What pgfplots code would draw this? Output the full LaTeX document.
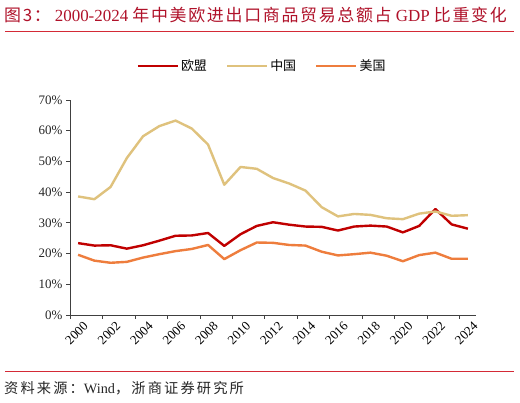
\documentclass[border=0pt]{standalone}
\usepackage{pgfplots}
\pgfplotsset{compat=1.18}
\usepackage{fontspec}
\setmainfont{Liberation Serif}
\newfontfamily\cjk{Noto Sans CJK SC}
\newfontfamily\cjkt[LetterSpace=10]{Noto Sans CJK SC}
\newfontfamily\cjks[LetterSpace=15]{Noto Sans CJK SC}
\definecolor{eu}{HTML}{C00000}
\definecolor{cn}{HTML}{DFC27D}
\definecolor{us}{HTML}{EE7D3D}
\definecolor{titlered}{HTML}{B0122A}
\definecolor{rule}{HTML}{D42A36}
\begin{document}
\begin{tikzpicture}
\path[use as bounding box, fill=white] (0,0) rectangle (520bp,403bp);
\node[anchor=west, text=titlered, inner sep=0pt, font=\fontsize{17}{19}\selectfont] at (4bp,388bp)
 {{\cjkt 图3：}\hspace{4bp}2000-2024 {\cjkt 年中美欧进出口商品贸易总额占} GDP {\cjkt 比重变化}};
\draw[rule, line width=0.9bp] (5bp,372bp) -- (514bp,372bp);
\draw[rule, line width=0.9bp] (5bp,32bp) -- (514bp,32bp);
\node[anchor=west, inner sep=0pt, font=\fontsize{14.3}{16}\selectfont, text=black!85] at (4bp,15bp)
 {{\cjks 资料来源：}Wind{\cjks ，浙商证券研究所}};
\begin{axis}[
  at={(70bp,88bp)}, anchor=south west,
  scale only axis, width=406bp, height=215bp,
  xmin=1999.5, xmax=2024.5, ymin=0, ymax=70,
  axis x line*=bottom, axis y line*=left,
  axis line style={black!75, line width=0.9bp},
  xtick={2000,2002,...,2024},
  minor xtick={1999.5,2001.5,...,2023.5},
  major x tick style={draw=none},
  minor tick length=4bp, major tick length=4bp,
  tick align=outside,
  tick style={black!75, line width=0.8bp},
  ytick={0,10,...,70},
  yticklabel={\pgfmathprintnumber{\tick}\%},
  /pgf/number format/assume math mode=true,
  xticklabel={\pgfmathprintnumber[1000 sep={}]{\tick}},
  x tick label style={rotate=45, anchor=east, font=\fontsize{13}{15}\selectfont, inner sep=0bp, xshift=2bp, yshift=-9bp},
  y tick label style={font=\fontsize{13}{15}\selectfont, text=black!85},
  legend columns=-1,
  legend style={at={(0.473,1.158)}, anchor=center, draw=none, fill=none,
    font=\cjk\fontsize{13}{15}\selectfont,
    /tikz/every even column/.append style={column sep=17bp}},
  legend image code/.code={\draw[#1] (0bp,0bp) -- (40bp,0bp);},
  every axis plot/.append style={line width=2.4bp, line join=round},
]
\addplot[eu] coordinates {
(2000,23.4) (2001,22.6) (2002,22.7) (2003,21.6) (2004,22.7) (2005,24.2) (2006,25.8) (2007,25.9) (2008,26.7) (2009,22.5) (2010,26.3) (2011,29.0) (2012,30.2) (2013,29.4) (2014,28.8) (2015,28.7) (2016,27.5) (2017,28.8) (2018,29.1) (2019,28.8) (2020,26.9) (2021,29.0) (2022,34.5) (2023,29.5) (2024,28.1)};
\addlegendentry{欧盟}
\addplot[cn] coordinates {
(2000,38.6) (2001,37.7) (2002,41.7) (2003,51.1) (2004,58.2) (2005,61.5) (2006,63.3) (2007,60.7) (2008,55.5) (2009,42.4) (2010,48.2) (2011,47.6) (2012,44.6) (2013,42.8) (2014,40.5) (2015,35.1) (2016,32.1) (2017,32.9) (2018,32.6) (2019,31.5) (2020,31.2) (2021,33.0) (2022,33.7) (2023,32.3) (2024,32.5)};
\addlegendentry{中国}
\addplot[us] coordinates {
(2000,19.6) (2001,17.7) (2002,17.0) (2003,17.3) (2004,18.7) (2005,19.8) (2006,20.8) (2007,21.5) (2008,22.8) (2009,18.2) (2010,21.1) (2011,23.6) (2012,23.5) (2013,22.8) (2014,22.6) (2015,20.6) (2016,19.4) (2017,19.8) (2018,20.3) (2019,19.3) (2020,17.5) (2021,19.5) (2022,20.3) (2023,18.3) (2024,18.3)};
\addlegendentry{美国}
\end{axis}
\end{tikzpicture}
\end{document}
